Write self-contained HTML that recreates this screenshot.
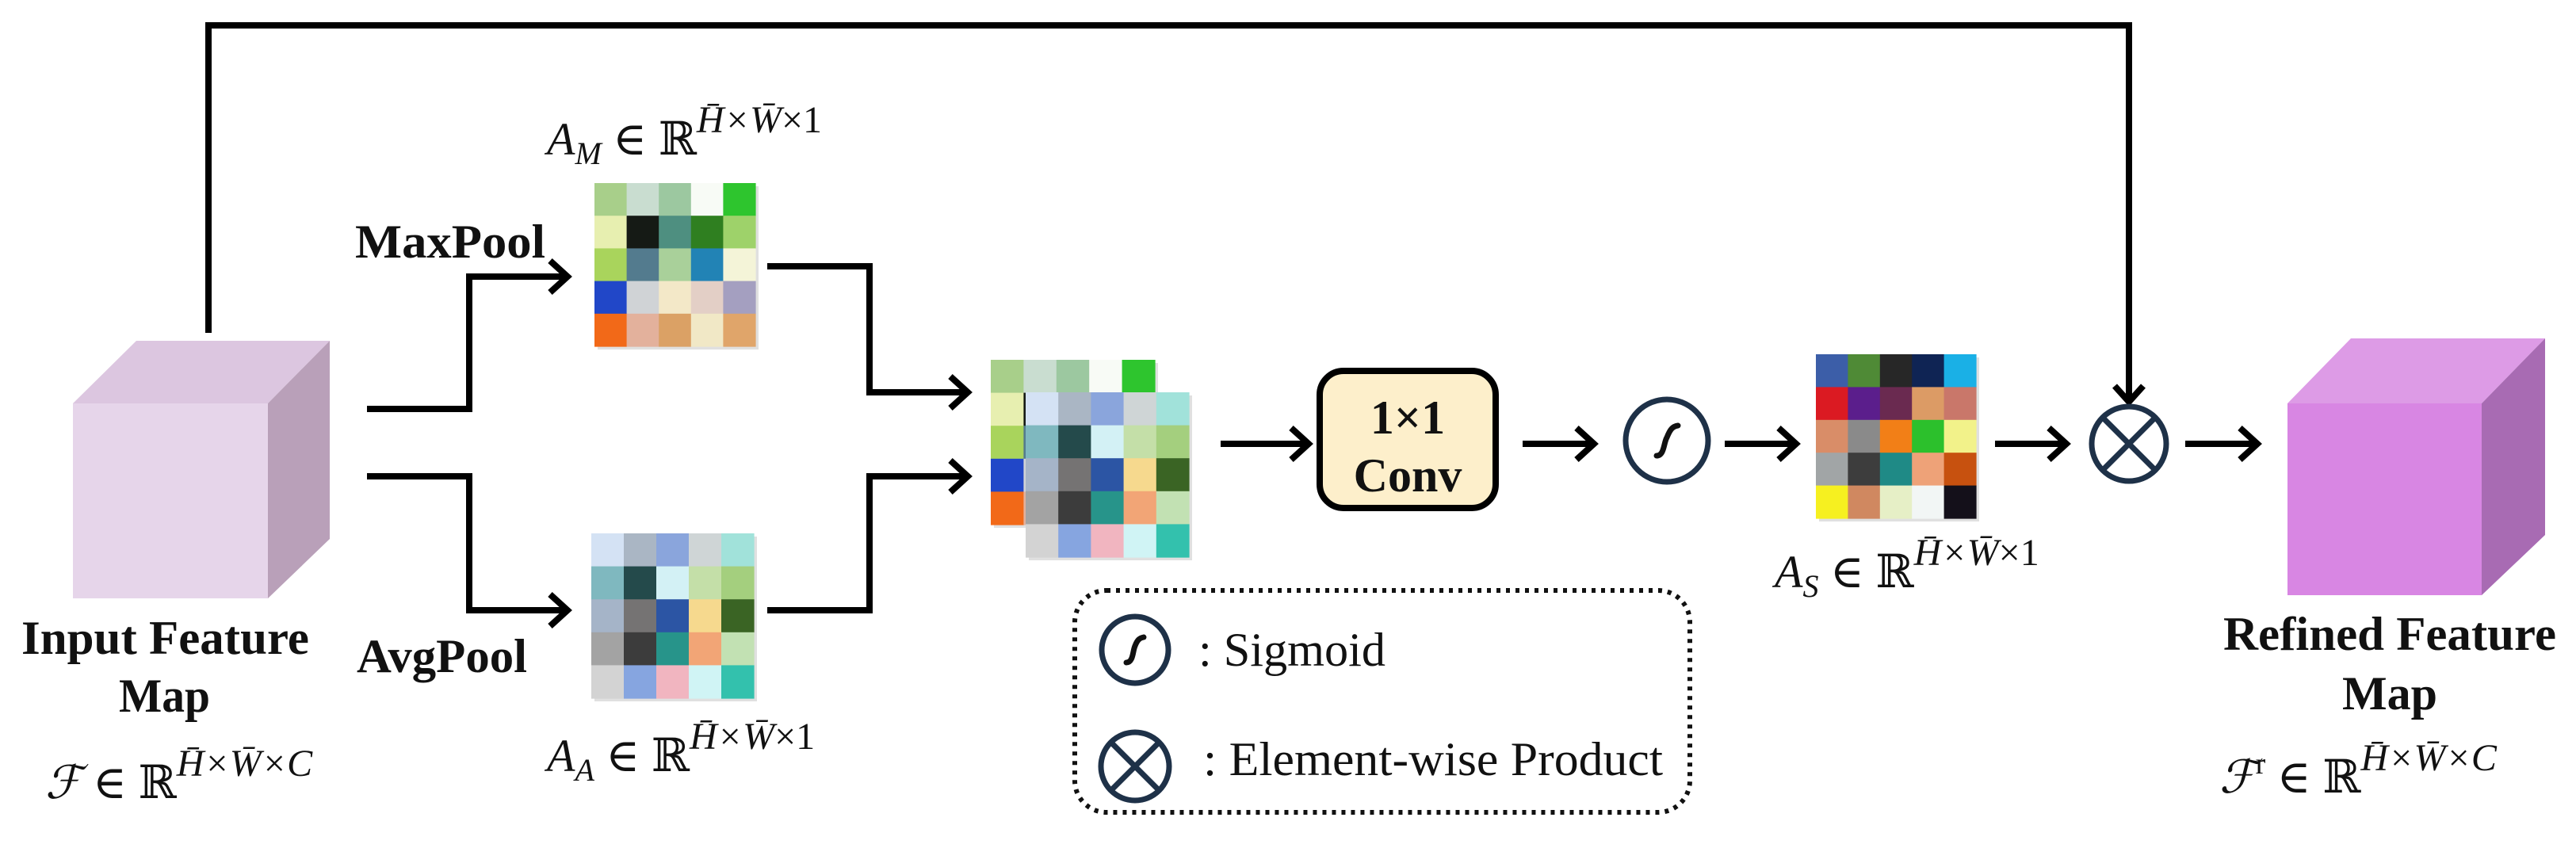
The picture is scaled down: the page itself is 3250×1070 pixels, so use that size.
<!DOCTYPE html>
<html><head><meta charset="utf-8"><style>
html,body{margin:0;padding:0;background:#fff;width:3250px;height:1070px;overflow:hidden}
svg{display:block}
text{font-family:'Liberation Serif','DejaVu Serif','Times New Roman',serif}
.b{font-weight:bold;font-size:60px;fill:#111}
.m{font-size:58px;fill:#111}
.r{font-size:60px;fill:#111}
</style></head><body>
<svg width="3250" height="1070" viewBox="0 0 3250 1070" xmlns="http://www.w3.org/2000/svg" font-family="'Liberation Serif','DejaVu Serif',serif">
<g fill="none" stroke="#000" stroke-width="8" stroke-linejoin="miter">
<polyline points="263,420 263,32 2686,32 2686,505"/>
<polyline points="2668,487 2686,507 2704,487"/>
<polyline points="463,516 592,516 592,349 715,349"/>
<polyline points="694,329 716,349 694,369"/>
<polyline points="463,601 592,601 592,770 715,770"/>
<polyline points="694,750 716,770 694,790"/>
<polyline points="968,336 1097,336 1097,495 1220,495"/>
<polyline points="1199,475 1221,495 1199,515"/>
<polyline points="968,770 1097,770 1097,601 1220,601"/>
<polyline points="1199,581 1221,601 1199,621"/>
<line x1="1540" y1="560" x2="1650" y2="560"/><polyline points="1629,540 1651,560 1629,580"/>
<line x1="1921" y1="560" x2="2010" y2="560"/><polyline points="1989,540 2011,560 1989,580"/>
<line x1="2176" y1="560" x2="2265" y2="560"/><polyline points="2244,540 2266,560 2244,580"/>
<line x1="2517" y1="560" x2="2606" y2="560"/><polyline points="2585,540 2607,560 2585,580"/>
<line x1="2757" y1="560" x2="2847" y2="560"/><polyline points="2826,540 2848,560 2826,580"/>
</g>
<polygon points="92,509 172,430 416,430 338,509" fill="#dcc6e0"/>
<polygon points="338,509 416,430 416,680 338,755" fill="#b9a0b9"/>
<rect x="92" y="509" width="246" height="246" fill="#e6d5ea"/>
<polygon points="2886,509 2966,427 3211,427 3131,509" fill="#dd9be6"/>
<polygon points="3131,509 3211,427 3211,675 3131,751" fill="#a86bb3"/>
<rect x="2886" y="509" width="245" height="242" fill="#d886e3"/>
<g id="mats"></g>
<rect x="1665" y="468" width="222" height="173" rx="30" fill="#fdefcb" stroke="#000" stroke-width="8"/>
<text class="b" x="1776" y="547" text-anchor="middle" font-size="66">1×1</text>
<text class="b" x="1776" y="620" text-anchor="middle" font-size="66">Conv</text>
<circle cx="2103" cy="556" r="52" fill="none" stroke="#1e3148" stroke-width="7"/>
<path d="M2090,575 C2100,575 2099,558 2103,552 C2107,542 2110,538 2117,537" fill="none" stroke="#111" stroke-width="7" stroke-linecap="round"/>
<circle cx="2686" cy="560" r="47" fill="none" stroke="#1e3148" stroke-width="7"/>
<line x1="2653" y1="527" x2="2719" y2="593" stroke="#1e3148" stroke-width="7"/>
<line x1="2719" y1="527" x2="2653" y2="593" stroke="#1e3148" stroke-width="7"/>
<rect x="1356" y="745" width="776" height="280" rx="40" fill="none" stroke="#111" stroke-width="6" stroke-dasharray="5 7"/>
<circle cx="1432" cy="820" r="42" fill="none" stroke="#1e3148" stroke-width="7"/>
<path d="M1421,836 C1430,836 1429,821 1432,815 C1435,807 1438,805 1443,804" fill="none" stroke="#111" stroke-width="7" stroke-linecap="round"/>
<circle cx="1432" cy="967" r="43" fill="none" stroke="#1e3148" stroke-width="7"/>
<line x1="1402" y1="937" x2="1462" y2="997" stroke="#1e3148" stroke-width="7"/>
<line x1="1462" y1="937" x2="1402" y2="997" stroke="#1e3148" stroke-width="7"/>
<text class="r" x="1512" y="840" textLength="236" lengthAdjust="spacingAndGlyphs">: Sigmoid</text>
<text class="r" x="1518" y="978" textLength="580" lengthAdjust="spacingAndGlyphs">: Element-wise Product</text>
<text class="b" x="448" y="325" textLength="240" lengthAdjust="spacingAndGlyphs">MaxPool</text>
<text class="b" x="450" y="848" textLength="215" lengthAdjust="spacingAndGlyphs">AvgPool</text>
<text class="b" x="27" y="825" textLength="363" lengthAdjust="spacingAndGlyphs">Input Feature</text>
<text class="b" x="150" y="898" textLength="115" lengthAdjust="spacingAndGlyphs">Map</text>
<text class="b" x="2805" y="820" textLength="420" lengthAdjust="spacingAndGlyphs">Refined Feature</text>
<text class="b" x="2955" y="895" textLength="120" lengthAdjust="spacingAndGlyphs">Map</text>
<text class="m" x="57" y="1007"><tspan font-style="italic">ℱ</tspan> ∈ ℝ<tspan font-size="48" dy="-28" font-style="italic">H̄×W̄×C</tspan></text>
<text class="m" x="2800" y="1000"><tspan font-style="italic">ℱ</tspan><tspan font-size="38" dy="-24">r</tspan><tspan dy="24"> ∈ ℝ</tspan><tspan font-size="48" dy="-28" font-style="italic">H̄×W̄×C</tspan></text>
<text class="m" x="690" y="195"><tspan font-style="italic">A</tspan><tspan font-size="40" dy="12" font-style="italic">M</tspan><tspan dy="-12"> ∈ ℝ</tspan><tspan font-size="48" dy="-28" font-style="italic">H̄×W̄</tspan><tspan font-size="48">×1</tspan></text>
<text class="m" x="690" y="973"><tspan font-style="italic">A</tspan><tspan font-size="40" dy="12" font-style="italic">A</tspan><tspan dy="-12"> ∈ ℝ</tspan><tspan font-size="48" dy="-28" font-style="italic">H̄×W̄</tspan><tspan font-size="48">×1</tspan></text>
<text class="m" x="2239" y="741"><tspan font-style="italic">A</tspan><tspan font-size="40" dy="12" font-style="italic">S</tspan><tspan dy="-12"> ∈ ℝ</tspan><tspan font-size="48" dy="-28" font-style="italic">H̄×W̄</tspan><tspan font-size="48">×1</tspan></text>
</svg>
<script>
(function(){
var ns="http://www.w3.org/2000/svg",g=document.getElementById("mats");
function mat(x,y,w,h,c,shadow){
 if(shadow){var s=document.createElementNS(ns,"rect");s.setAttribute("x",x+4);s.setAttribute("y",y+4);s.setAttribute("width",w);s.setAttribute("height",h);s.setAttribute("fill","#ccc");s.setAttribute("opacity","0.6");g.appendChild(s);}
 var cw=w/5,ch=h/5;
 for(var i=0;i<5;i++)for(var j=0;j<5;j++){var r=document.createElementNS(ns,"rect");
 r.setAttribute("x",x+j*cw);r.setAttribute("y",y+i*ch);r.setAttribute("width",cw+0.6);r.setAttribute("height",ch+0.6);r.setAttribute("fill",c[i][j]);g.appendChild(r);}
}
var M=[["#a8cf8a","#c9ddd0","#9cc8a0","#f8fbf6","#2ec52e"],["#e7efb0","#151a15","#4e8f80","#2f7f20","#9ed26a"],["#a9d45c","#537b8e","#a9d09a","#2283b5","#f4f4d8"],["#2147c8","#d0d3d6","#f3e8c8","#e3cfc6","#a49fc0"],["#f26918","#e3b19c","#dba165","#f1e8c6","#e0a56a"]];
var A=[["#d4e2f4","#aab6c4","#8aa5dc","#cfd5d6","#a1e2da"],["#7fb8bf","#244a4b","#d3f1f5","#c4dfa8","#a4cf7e"],["#a5b4c8","#757373","#2c55a4","#f6d98e","#3a6424"],["#a3a3a3","#3c3c3c","#27948a","#f2a576","#c2e1b3"],["#d3d3d3","#86a5e0","#f1b5c0","#d0f4f5","#33c1ad"]];
var S=[["#3c5ea8","#4f8a36","#272727","#0f2454","#1ab0e6"],["#db1a22","#5b1e8c","#6a2a50","#dc9b65","#c9776a"],["#d98d68","#8a8a8a","#f27f17","#2cc02c","#f2f28a"],["#a1a5a6","#3d3d3d","#1f8a86","#eea278","#c7510f"],["#f6f020","#d08860","#e6efc6","#f2f6f5","#14101a"]];
mat(750,231,203,206,M,true);
mat(746,673,205,208,A,true);
mat(1250,454,207,208,M,true);
mat(1294,495,206,208,A,true);
mat(2291,447,202,207,S,true);
})();
</script>
</body></html>
